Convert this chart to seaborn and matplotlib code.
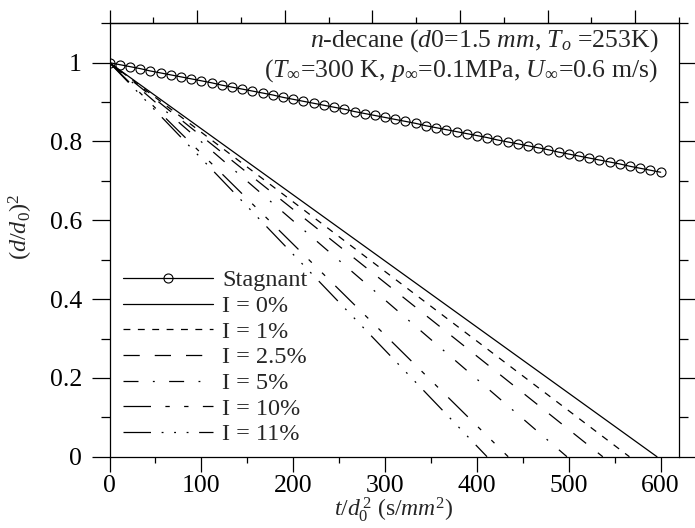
import matplotlib
matplotlib.use("Agg")
import matplotlib.pyplot as plt
import numpy as np
import pandas as pd
import seaborn as sns
from matplotlib.ticker import MultipleLocator, NullFormatter, FuncFormatter

# Stagnant droplet: squared diameter ratio vs. normalised time
t_stagnant = [0.0, 11.1, 22.2, 33.3, 44.4, 55.6, 66.7, 77.8, 88.9, 100.0,
              111.1, 122.2, 133.3, 144.4, 155.6, 166.7, 177.8, 188.9, 200.0,
              211.1, 222.2, 233.3, 244.4, 255.6, 266.7, 277.8, 288.9, 300.0,
              311.1, 322.2, 333.3, 344.4, 355.6, 366.7, 377.8, 388.9, 400.0,
              411.1, 422.2, 433.3, 444.4, 455.6, 466.7, 477.8, 488.9, 500.0,
              511.1, 522.2, 533.3, 544.4, 555.6, 566.7, 577.8, 588.9, 600.0]
d2_stagnant = [1.000, 0.995, 0.990, 0.985, 0.979, 0.974, 0.969, 0.964, 0.959,
               0.954, 0.949, 0.943, 0.938, 0.933, 0.928, 0.923, 0.918, 0.912,
               0.907, 0.902, 0.897, 0.892, 0.887, 0.882, 0.876, 0.871, 0.866,
               0.861, 0.856, 0.851, 0.846, 0.840, 0.835, 0.830, 0.825, 0.820,
               0.815, 0.810, 0.804, 0.799, 0.794, 0.789, 0.784, 0.779, 0.773,
               0.768, 0.763, 0.758, 0.753, 0.748, 0.743, 0.737, 0.732, 0.727,
               0.722]

# Convective cases at different turbulence intensities
intensity_labels = ["I = 0%", "I = 1%", "I = 2.5%", "I = 5%", "I = 10%", "I = 11%"]
burnout_times = [596, 566, 537, 498, 434, 411]
d2_start = 1.0
d2_end = 0.0

line_styles = [
    "-",
    (0, (5.5, 6)),
    (0, (13, 12)),
    (0, (12, 11.5, 1.5, 11.5)),
    (0, (22, 11.5, 3.5, 11.5, 3.5, 11.5)),
    (0, (22, 8.5, 1.5, 8.5, 1.5, 8.5, 1.5, 8.5)),
]

sns.set_style("ticks")
plt.rcParams.update({
    "font.family": ["Liberation Serif", "DejaVu Serif"],
    "mathtext.fontset": "custom",
    "mathtext.rm": "Liberation Serif",
    "mathtext.it": "Liberation Serif:italic",
    "mathtext.bf": "Liberation Serif:bold",
    "axes.edgecolor": "black",
    "axes.linewidth": 0.9,
    "xtick.color": "black",
    "ytick.color": "black",
    "xtick.major.width": 0.9,
    "ytick.major.width": 0.9,
    "xtick.minor.width": 0.9,
    "ytick.minor.width": 0.9,
})

TICK_FS = 18.5
LEGEND_FS = 17.5
NOTE_FS = 18.5
XLABEL_FS = 17
YLABEL_FS = 17.5

fig = plt.figure(figsize=(6.95, 5.28), dpi=100)
ax = fig.add_axes([0.1576, 0.135, 0.8194, 0.8209])

stag = pd.DataFrame({"t": t_stagnant, "d2": d2_stagnant})
sns.lineplot(data=stag, x="t", y="d2", ax=ax, color="black", lw=0.9,
             marker="o", markersize=6.5, markerfacecolor="none",
             markeredgecolor="black", markeredgewidth=0.8, label="Stagnant")

for lab, t_end, ls in zip(intensity_labels, burnout_times, line_styles):
    df = pd.DataFrame({"t": [0.0, t_end], "d2": [d2_start, d2_end]})
    sns.lineplot(data=df, x="t", y="d2", ax=ax, color="black", lw=0.9,
                 linestyle=ls, label=lab)

ax.set_xlim(0, 620)
ax.set_ylim(0, 1.1)
ax.xaxis.set_major_locator(MultipleLocator(100))
ax.xaxis.set_minor_locator(MultipleLocator(50))
ax.yaxis.set_major_locator(MultipleLocator(0.2))
ax.yaxis.set_minor_locator(MultipleLocator(0.1))
ax.yaxis.set_major_formatter(FuncFormatter(
    lambda v, p: "0" if abs(v) < 1e-9 else ("1" if abs(v - 1) < 1e-9 else f"{v:.1f}")))

ax.tick_params(axis="x", which="both", direction="out", labelsize=TICK_FS, pad=2.5)
ax.tick_params(axis="x", which="major", length=10.5)
ax.tick_params(axis="x", which="minor", length=4.5)
ax.tick_params(axis="y", which="both", direction="out", right=True,
               labelsize=TICK_FS, pad=7)
ax.tick_params(axis="y", which="major", length=13)
ax.tick_params(axis="y", which="minor", length=6.5)

# Unlabelled secondary scale along the top edge
top = ax.secondary_xaxis("top", functions=(lambda x: x * 6.5 / 620,
                                           lambda x: x * 620 / 6.5))
top.xaxis.set_major_locator(MultipleLocator(1))
top.xaxis.set_minor_locator(MultipleLocator(0.5))
top.xaxis.set_major_formatter(NullFormatter())
top.tick_params(axis="x", which="both", direction="out")
top.tick_params(axis="x", which="major", length=9.5)
top.tick_params(axis="x", which="minor", length=4)

ax.set_xlabel(r"$t/d_0^{\,2}$ (s/$mm^2$)", fontsize=XLABEL_FS, labelpad=-1.5)
ax.set_ylabel(r"$(d/d_0)^2$", fontsize=YLABEL_FS)
ax.yaxis.set_label_coords(-0.13, 0.53)

ax.text(0.963, 0.961, r"$n$-decane ($d0$=1.5 $mm$, $T_o$ =253K)",
        transform=ax.transAxes, ha="right", va="center", fontsize=NOTE_FS)
ax.text(0.963, 0.892,
        r"($T_\infty$=300 K, $p_\infty$=0.1MPa, $U_\infty$=0.6 m/s)",
        transform=ax.transAxes, ha="right", va="center", fontsize=NOTE_FS)

ax.legend(loc="upper left", bbox_to_anchor=(0.023, 0.432), frameon=False,
          fontsize=LEGEND_FS, handlelength=90 / (LEGEND_FS * 1.389),
          handletextpad=0.4, labelspacing=0.15, borderpad=0,
          borderaxespad=0, numpoints=1)

fig.savefig("out.png", dpi=100)
